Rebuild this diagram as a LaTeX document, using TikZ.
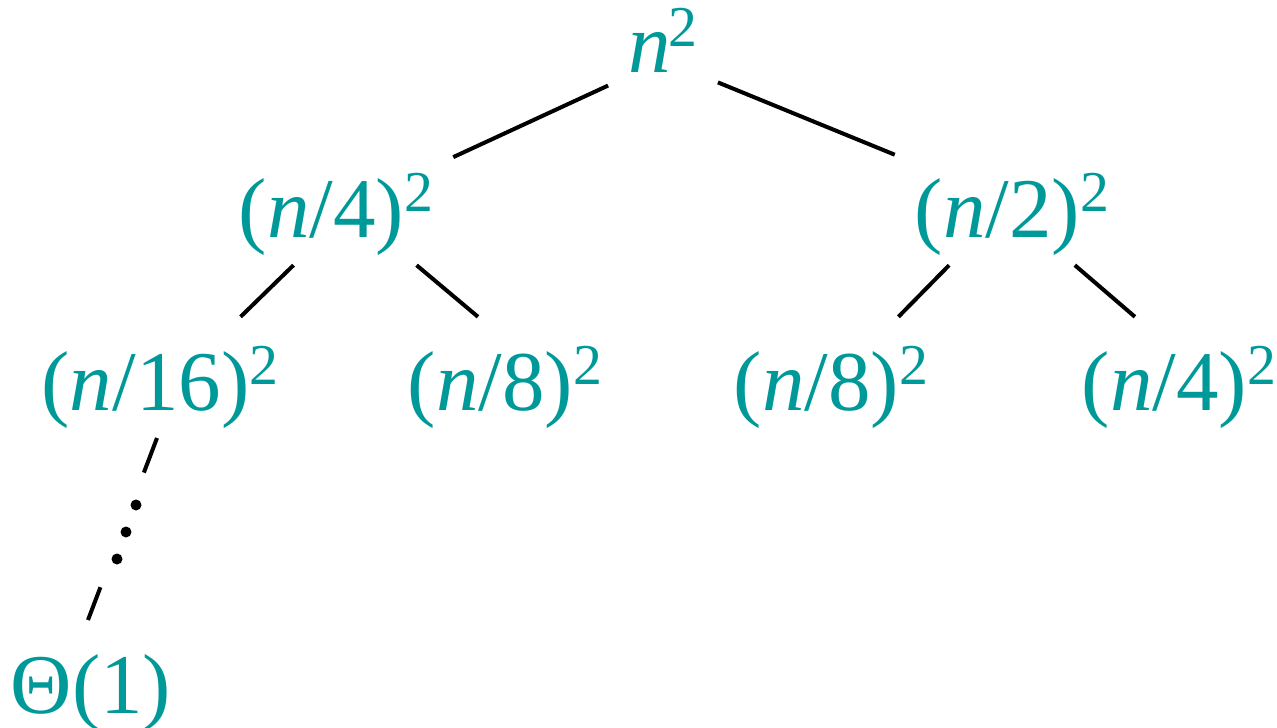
\documentclass[tikz,border=0pt]{standalone}
\usepackage{fontspec}
\setmainfont{Liberation Serif}
\usepackage{tikz}
\usetikzlibrary{calc}
\definecolor{tealtext}{RGB}{0,153,153}
\newcommand{\sqr}{\raisebox{0.3em}{\scalebox{0.68}{2}}}
\tikzstyle{term} = [
    rectangle,
    fill=white,
    inner xsep=20pt,
    inner ysep=10pt,
    text height=83pt,
    text depth=18pt,
    anchor=base,
    text=tealtext,
    font=\fontsize{85}{90}\selectfont
]
\tikzstyle{edge} = [
    line width=4pt,
    draw=black
]

\begin{document}
\begin{tikzpicture}[x=1pt, y=-1pt]
        \useasboundingbox (0,0) rectangle (1277,728);

        % Recursion tree
        \node[term] (root) at (663,72) {\textit{n}\kern-2pt\sqr};
        \node[term] (a4) at (336,237) {(\textit{n}/4)\sqr};
        \node[term] (a2) at (1012,237) {(\textit{n}/2)\sqr};
        \node[term] (b16) at (160,410) {(\textit{n}/16)\sqr};
        \node[term] (b8l) at (505,410) {(\textit{n}/8)\sqr};
        \node[term] (b8r) at (831,410) {(\textit{n}/8)\sqr};
        \node[term] (b4) at (1179,410) {(\textit{n}/4)\sqr};
        \node[term] (leaf) at (91,713) {Θ(1)};

        \draw[edge] (root.220.7) -- (a4.22.3);
        \draw[edge] (root.322.3) -- (a2.157.1);
        \draw[edge] (a4.235.9) -- (b16.37.1);
        \draw[edge] (a4.323.6) -- (b8l.114.8);
        \draw[edge] (a2.224.3) -- (b8r.42.5);
        \draw[edge] (a2.316.2) -- (b4.126);

        % Path down to the leaf
        \coordinate (d1) at (157,438);
        \coordinate (d2) at (88,620);
        \draw[edge] (d1) -- ($(d1)!0.19!(d2)$);
        \draw[edge] ($(d1)!0.82!(d2)$) -- (d2);
        \foreach \p in {(136,505), (126,532), (117,559)}
            \fill \p circle (5.5);
\end{tikzpicture}
\end{document}
